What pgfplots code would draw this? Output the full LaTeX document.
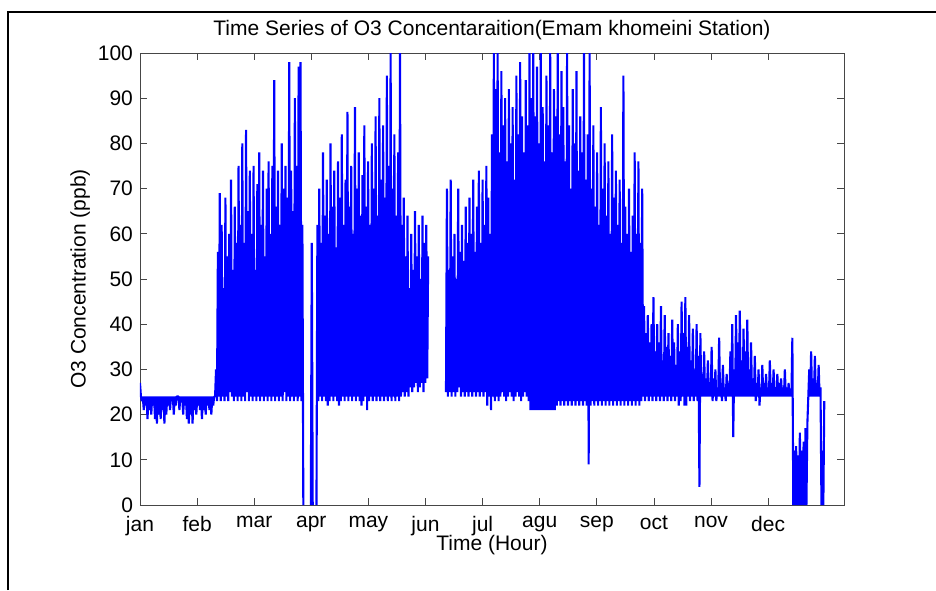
\documentclass[border=0pt]{standalone}
\usepackage{fontspec}
\setmainfont{Liberation Sans}
\usepackage{pgfplots}
\pgfplotsset{compat=1.18}
\definecolor{o3blue}{RGB}{0,0,255}
\definecolor{axgray}{RGB}{70,70,70}
\begin{document}
\begin{tikzpicture}[font=\fontsize{10.5}{12.6}\selectfont]
\path[use as bounding box] (0,0) rectangle (468pt,295pt);
\draw[line width=1pt] (4pt,0) -- (4pt,289pt) -- (468pt,289pt);
\begin{axis}[
  at={(70pt,42.5pt)}, anchor=south west,
  scale only axis, width=352pt, height=226pt,
  xmin=0, xmax=9000, ymin=0, ymax=100,
  xtick={0,730,...,8030},
  xticklabels={jan,feb,mar,apr,may,jun,jul,agu,sep,oct,nov,dec},
  ytick={0,10,...,100},
  /pgf/number format/assume math mode=true,
  xticklabel style={yshift=-2pt},
  major tick length=3.5pt,
  axis line style={axgray},
  every tick/.style={axgray},
  every axis title/.style={at={(axis description cs:0.5,1.051)}, anchor=center},
  title={Time Series of O3 Concentaraition(Emam khomeini Station)},
  xlabel={Time (Hour)},
  xlabel style={at={(axis description cs:0.5,-0.089)}, anchor=center},
  ylabel={O3 Concentration (ppb)},
  ylabel style={at={(axis description cs:-0.085,0.5)}, anchor=center},
  unbounded coords=jump,
]
% hourly O3 read off as daily low / high
\addplot[o3blue, line width=1.05pt, line join=bevel] coordinates {
(0,27)(12,24)(24,23)(36,24)(48,21)(60,24)(72,22)(84,24)(96,19)(108,24)
(120,21)(132,24)(144,20)(156,24)(168,22)(180,24)(192,19)(204,24)(216,18)(228,24)
(240,20)(252,24)(264,19)(276,24)(288,21)(300,24)(312,18)(324,24)(336,20)(348,24)
(360,22)(372,24)(384,21)(396,24)(408,23)(420,24)(432,20)(444,24)(456,22)(468,24)
(480,24)(492,24)(504,21)(516,24)(528,23)(540,24)(552,20)(564,24)(576,22)(588,24)
(600,19)(612,24)(624,18)(636,24)(648,20)(660,24)(672,18)(684,24)(696,21)(708,24)
(720,20)(732,24)(744,22)(756,24)(768,21)(780,24)(792,19)(804,24)(816,21)(828,24)
(840,20)(852,24)(864,22)(876,24)(888,21)(900,24)(912,20)(924,24)(936,22)(948,24)
(960,24)(972,30)(984,23)(996,56)(1008,24)(1020,69)(1032,23)(1044,62)(1056,24)(1068,48)
(1080,23)(1092,68)(1104,24)(1116,55)(1128,23)(1140,60)(1152,25)(1164,72)(1176,24)(1188,52)
(1200,23)(1212,66)(1224,24)(1236,58)(1248,23)(1260,75)(1272,24)(1284,62)(1296,23)(1308,80)
(1320,24)(1332,58)(1344,23)(1356,83)(1368,25)(1380,65)(1392,23)(1404,74)(1416,24)(1428,60)
(1440,23)(1452,75)(1464,24)(1476,52)(1488,23)(1500,71)(1512,24)(1524,78)(1536,23)(1548,62)
(1560,24)(1572,74)(1584,23)(1596,55)(1608,24)(1620,70)(1632,23)(1644,76)(1656,24)(1668,60)
(1680,23)(1692,75)(1704,24)(1716,94)(1728,23)(1740,66)(1752,24)(1764,74)(1776,23)(1788,62)
(1800,24)(1812,80)(1824,23)(1836,70)(1848,25)(1860,75)(1872,23)(1884,68)(1896,24)(1908,98)
(1920,23)(1932,74)(1944,24)(1956,65)(1968,23)(1980,90)(1992,24)(2004,75)(2016,23)(2028,97)
(2040,24)(2052,98)(2064,23)(2076,62)
(2088,0)(2090,nan)(2184,0)(2196,58)(2208,0)(2210,nan)(2256,0)(2268,62)
(2280,23)(2292,70)(2304,24)(2316,58)(2328,23)(2340,78)(2352,24)(2364,64)(2376,23)(2388,72)
(2400,22)(2412,60)(2424,23)(2436,80)(2448,24)(2460,66)(2472,23)(2484,74)(2496,24)(2508,57)
(2520,23)(2532,76)(2544,22)(2556,68)(2568,23)(2580,82)(2592,24)(2604,62)(2616,23)(2628,72)
(2640,24)(2652,87)(2664,23)(2676,66)(2688,24)(2700,75)(2712,23)(2724,60)(2736,24)(2748,88)
(2760,23)(2772,70)(2784,24)(2796,78)(2808,23)(2820,64)(2832,22)(2844,73)(2856,23)(2868,84)
(2880,24)(2892,66)(2904,21)(2916,76)(2928,23)(2940,62)(2952,24)(2964,80)(2976,23)(2988,70)
(3000,24)(3012,86)(3024,23)(3036,64)(3048,24)(3060,90)(3072,23)(3084,72)(3096,24)(3108,84)
(3120,23)(3132,68)(3144,24)(3156,95)(3168,23)(3180,75)(3192,24)(3204,100)(3216,23)(3228,70)
(3240,24)(3252,82)(3264,23)(3276,64)(3288,24)(3300,78)(3312,23)(3324,100)(3336,24)(3348,62)
(3360,25)(3372,68)(3384,24)(3396,55)(3408,25)(3420,64)(3432,24)(3444,48)(3456,26)(3468,60)
(3480,25)(3492,52)(3504,26)(3516,65)(3528,27)(3540,55)(3552,25)(3564,62)(3576,26)(3588,50)
(3600,27)(3612,64)(3624,25)(3636,58)(3648,27)(3660,62)(3672,28)(3684,55)
(3696,nan)
(3912,25)(3924,70)(3936,24)(3948,52)(3960,25)(3972,72)(3984,24)(3996,55)(4008,25)(4020,60)
(4032,24)(4044,50)(4056,25)(4068,70)(4080,26)(4092,56)(4104,24)(4116,62)(4128,25)(4140,54)
(4152,24)(4164,66)(4176,25)(4188,58)(4200,24)(4212,68)(4224,25)(4236,60)(4248,24)(4260,72)
(4272,25)(4284,56)(4296,24)(4308,66)(4320,25)(4332,74)(4344,24)(4356,58)(4368,25)(4380,72)
(4392,24)(4404,62)(4416,25)(4428,75)(4440,22)(4452,68)(4464,24)(4476,60)(4488,21)(4500,82)
(4512,24)(4524,100)(4536,23)(4548,92)(4560,24)(4572,100)(4584,23)(4596,78)(4608,24)(4620,96)
(4632,25)(4644,84)(4656,24)(4668,90)(4680,23)(4692,76)(4704,24)(4716,92)(4728,25)(4740,80)
(4752,24)(4764,88)(4776,23)(4788,72)(4800,24)(4812,95)(4824,25)(4836,82)(4848,24)(4860,98)
(4872,23)(4884,86)(4896,24)(4908,78)(4920,25)(4932,94)(4944,24)(4956,84)(4968,23)(4980,100)
(4992,21)(5004,90)(5016,21)(5028,100)(5040,21)(5052,86)(5064,21)(5076,97)(5088,21)(5100,80)
(5112,21)(5124,100)(5136,21)(5148,88)(5160,21)(5172,76)(5184,21)(5196,95)(5208,21)(5220,84)
(5232,21)(5244,100)(5256,21)(5268,78)(5280,21)(5292,92)(5304,21)(5316,86)(5328,22)(5340,100)
(5352,23)(5364,82)(5376,22)(5388,96)(5400,23)(5412,88)(5424,22)(5436,76)(5448,23)(5460,100)
(5472,22)(5484,84)(5496,23)(5508,70)(5520,22)(5532,92)(5544,23)(5556,80)(5568,22)(5580,96)
(5592,23)(5604,74)(5616,22)(5628,86)(5640,23)(5652,78)(5664,22)(5676,100)(5688,23)(5700,72)
(5712,22)(5724,82)(5736,9)(5748,100)(5760,22)(5772,70)(5784,23)(5796,84)(5808,22)(5820,66)
(5832,23)(5844,78)(5856,22)(5868,62)(5880,23)(5892,88)(5904,22)(5916,70)(5928,23)(5940,80)
(5952,22)(5964,64)(5976,23)(5988,76)(6000,22)(6012,60)(6024,23)(6036,82)(6048,22)(6060,68)
(6072,23)(6084,74)(6096,22)(6108,62)(6120,23)(6132,72)(6144,22)(6156,58)(6168,23)(6180,95)
(6192,22)(6204,66)(6216,23)(6228,60)(6240,22)(6252,70)(6264,23)(6276,56)(6288,22)(6300,64)
(6312,23)(6324,78)(6336,22)(6348,60)(6360,23)(6372,76)(6384,22)(6396,58)(6408,23)(6420,70)
(6432,24)(6444,44)(6456,23)(6468,38)(6480,24)(6492,42)(6504,23)(6516,36)(6528,24)(6540,40)
(6552,23)(6564,46)(6576,24)(6588,34)(6600,23)(6612,40)(6624,24)(6636,36)(6648,23)(6660,44)
(6672,24)(6684,32)(6696,23)(6708,42)(6720,24)(6732,35)(6744,23)(6756,38)(6768,24)(6780,33)
(6792,23)(6804,41)(6816,24)(6828,36)(6840,23)(6852,31)(6864,24)(6876,40)(6888,22)(6900,34)
(6912,23)(6924,45)(6936,24)(6948,38)(6960,22)(6972,46)(6984,22)(6996,35)(7008,24)(7020,42)
(7032,23)(7044,32)(7056,24)(7068,39)(7080,23)(7092,30)(7104,24)(7116,40)(7128,23)(7140,33)
(7152,4)(7164,38)(7176,24)(7188,29)(7200,24)(7212,34)(7224,24)(7236,28)(7248,24)(7260,32)
(7272,24)(7284,27)(7296,24)(7308,35)(7320,23)(7332,28)(7344,24)(7356,30)(7368,23)(7380,26)
(7392,24)(7404,37)(7416,24)(7428,27)(7440,23)(7452,31)(7464,24)(7476,26)(7488,23)(7500,29)
(7512,24)(7524,27)(7536,24)(7548,34)(7560,24)(7572,40)(7584,15)(7596,30)(7608,24)(7620,42)
(7632,24)(7644,36)(7656,24)(7668,43)(7680,24)(7692,32)(7704,24)(7716,39)(7728,24)(7740,34)
(7752,24)(7764,41)(7776,24)(7788,30)(7800,24)(7812,36)(7824,24)(7836,28)(7848,24)(7860,33)
(7872,23)(7884,27)(7896,24)(7908,30)(7920,22)(7932,26)(7944,24)(7956,31)(7968,24)(7980,27)
(7992,24)(8004,29)(8016,24)(8028,26)(8040,24)(8052,32)(8064,24)(8076,27)(8088,24)(8100,30)
(8112,24)(8124,26)(8136,24)(8148,29)(8160,24)(8172,27)(8184,24)(8196,28)(8208,24)(8220,26)
(8232,24)(8244,30)(8256,24)(8268,26)(8280,24)(8292,27)(8304,24)(8316,25)(8328,24)(8340,37)
(8352,0)(8364,12)(8376,0)(8388,13)(8400,0)(8412,11)(8424,0)(8436,16)(8448,0)(8460,12)
(8472,0)(8484,14)(8496,0)(8508,17)(8520,0)(8532,18)(8544,24)(8556,30)(8568,24)(8580,34)
(8592,24)(8604,28)(8616,24)(8628,33)(8640,24)(8652,27)(8664,24)(8676,31)(8688,24)(8700,26)
(8712,0)(8724,12)(8736,0)(8748,23)
};
\end{axis}
\end{tikzpicture}
\end{document}
